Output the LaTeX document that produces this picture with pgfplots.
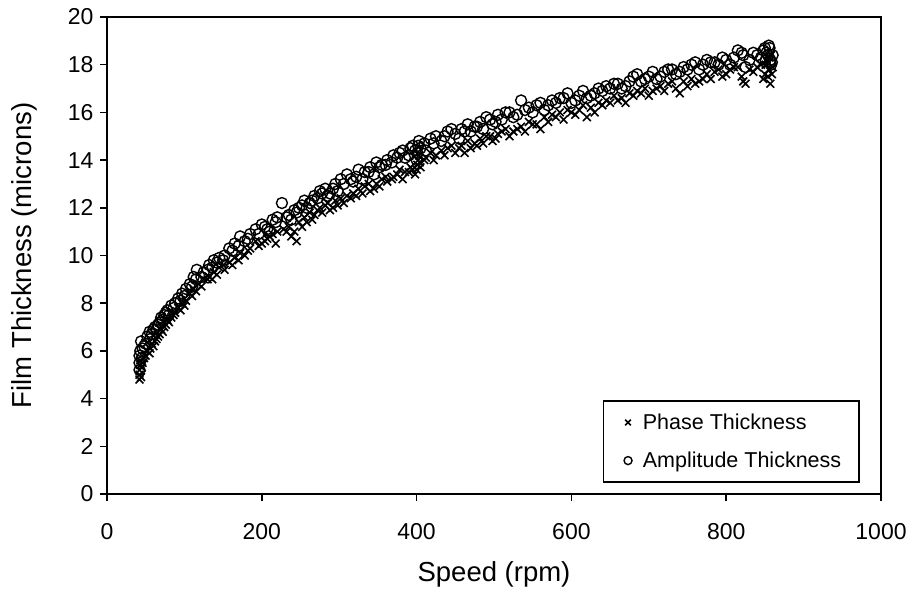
\documentclass[border=0pt]{standalone}
\usepackage{fontspec}
\setmainfont{Liberation Sans}
\usepackage{pgfplots}
\pgfplotsset{compat=1.18}
\begin{document}
\begin{tikzpicture}
\begin{axis}[
  scale only axis,
  width=774pt, height=477pt,
  xmin=0, xmax=1000, ymin=0, ymax=20,
  xtick={0,200,...,1000}, ytick={0,2,...,20},
  /pgf/number format/assume math mode=true,
  /pgf/number format/1000 sep={},
  tick label style={font=\fontsize{23}{27}\selectfont},
  label style={font=\fontsize{27.5}{32}\selectfont},
  xlabel={Speed (rpm)}, ylabel={Film Thickness (microns)},
  xlabel style={yshift=-15pt},
  ylabel style={yshift=24pt},
  axis line style={line width=2pt},
  tick style={line width=1.6pt, black},
  tick align=outside, major tick length=7pt,
  xtick pos=bottom, ytick pos=left,
  xticklabel style={yshift=-19pt},
  yticklabel style={xshift=-3pt},
  legend style={at={(0.973,0.023)}, anchor=south east, draw=black, line width=1.8pt,
    font=\fontsize{21.5}{25}\selectfont, row sep=17pt, inner xsep=16pt, inner ysep=11pt,
    cells={anchor=west}},
  legend cell align=left,
  legend image code/.code={\path[draw=none] (0,0) -- (0.75cm,0); \draw[#1, mark size=4pt] plot coordinates {(0.3cm,0cm)};},
]
\coordinate (ll) at (rel axis cs:0,0);
\coordinate (ur) at (rel axis cs:1,1);
\addplot[only marks, mark=x, mark size=5.5pt, mark options={line width=1.6pt, black}] coordinates {
(42,4.8) (42,5.0) (42,5.2) (43,5.4) (43,5.6) (44,4.9) (45,5.3) (50,5.8) (52,6.0) (55,5.9) (58,6.3) (62,6.4) (66,6.6) (70,6.9) (74,7.0) (78,7.3) (83,7.4) (88,7.6) (92,7.8) (97,8.0) (102,8.1) (107,8.4) (112,8.6) (118,8.8) (125,9.0) (132,9.1) (138,9.3) (145,9.5) (152,9.4) (158,9.7) (165,9.9) (172,10.1) (178,10.0) (185,10.3) (192,10.6) (200,10.5) (207,10.7) (214,10.9) (220,11.0) (228,11.1) (235,11.2) (242,11.0) (248,11.4) (255,11.6) (262,11.8) (268,11.7) (275,12.0) (282,12.1) (288,11.9) (295,12.3) (302,12.4) (310,12.5) (318,12.6) (325,12.8) (333,12.9) (340,12.7) (348,13.0) (355,13.2) (362,13.1) (370,13.3) (378,13.6) (385,13.5) (392,13.7) (398,13.4) (400,13.6) (401,13.8) (402,14.0) (403,14.2) (404,13.9) (410,14.0) (418,14.3) (425,14.2) (432,14.4) (440,14.5) (450,14.3) (458,14.6) (466,14.8) (475,14.7) (482,14.9) (490,15.0) (498,14.8) (505,15.1) (515,15.3) (525,15.2) (535,15.4) (545,15.6) (555,15.5) (565,15.8) (575,15.9) (585,16.0) (595,16.1) (605,15.9) (615,16.3) (625,16.2) (635,16.4) (645,16.5) (655,16.7) (665,16.6) (675,16.8) (685,16.9) (695,17.0) (705,16.9) (715,17.1) (725,17.2) (735,17.0) (745,17.3) (755,17.4) (765,17.3) (775,17.6) (785,17.7) (795,17.5) (805,17.8) (815,17.9) (822,17.3) (825,17.2) (835,17.7) (845,18.0) (850,17.6) (852,18.2) (855,17.8) (857,17.2) (858,18.4) (860,17.9)
(46,5.5) (48,5.7) (56,6.1) (60,6.2) (64,6.5) (68,6.7) (72,6.8) (76,7.1) (80,7.2) (86,7.5) (95,7.7) (100,7.9) (110,8.3) (115,8.5) (122,8.7) (130,9.0) (136,9.0) (142,9.2) (150,9.6) (162,9.6) (170,9.8) (182,10.2) (196,10.4) (204,10.6) (210,10.8) (218,10.5) (232,11.0) (238,10.8) (245,10.6) (252,11.2) (258,11.4) (265,11.5) (272,11.9) (278,11.8) (285,12.2) (292,12.0) (298,12.1) (306,12.2) (315,12.4) (322,12.5) (330,12.6) (338,13.0) (345,12.8) (352,12.9) (360,13.3) (368,13.2) (375,13.4) (382,13.2) (390,13.5) (395,13.6) (405,13.7) (412,14.1) (422,14.0) (436,14.2) (445,14.6) (455,14.5) (462,14.3) (470,14.5) (478,14.6) (486,14.7) (495,15.0) (502,14.9) (510,15.2) (520,15.0) (530,15.3) (540,15.2) (550,15.5) (560,15.3) (570,15.6) (580,15.8) (590,15.7) (600,16.0) (610,16.1) (620,15.8) (630,16.0) (640,16.3) (650,16.4) (660,16.5) (670,16.4) (680,16.7) (690,16.8) (700,16.7) (710,17.0) (720,16.9) (730,17.3) (740,16.8) (750,17.1) (760,17.2) (770,17.4) (780,17.4) (790,17.8) (800,17.6) (810,17.9) (820,17.5) (830,17.8) (840,17.9) (848,17.4) (851,18.0) (854,17.5) (856,18.3) (859,17.6)
};
\addlegendentry{Phase Thickness}
\addplot[only marks, mark=o, mark size=5.5pt, mark options={line width=1.4pt, black}] coordinates {
(42,5.2) (42,5.5) (42,5.8) (43,6.0) (44,6.4) (45,5.7) (50,6.3) (52,6.6) (55,6.8) (58,6.7) (62,7.0) (66,7.1) (70,7.4) (74,7.5) (78,7.7) (83,7.9) (88,8.0) (92,8.2) (97,8.4) (102,8.6) (107,8.8) (112,9.1) (116,9.4) (125,9.3) (132,9.6) (138,9.8) (145,9.9) (152,10.0) (158,10.3) (165,10.5) (172,10.8) (178,10.6) (185,10.9) (192,11.1) (200,11.3) (207,11.1) (214,11.5) (220,11.6) (226,12.2) (235,11.7) (242,11.9) (248,12.0) (255,12.3) (262,12.2) (268,12.5) (275,12.7) (282,12.8) (288,12.6) (295,13.0) (302,13.2) (310,13.4) (318,13.1) (325,13.6) (333,13.5) (340,13.7) (348,13.9) (355,13.8) (362,14.0) (370,14.2) (378,14.3) (385,14.1) (392,14.5) (398,14.4) (400,14.0) (401,14.3) (402,14.6) (403,14.8) (410,14.7) (418,14.9) (425,15.0) (432,14.8) (440,15.2) (450,15.1) (458,15.3) (466,15.5) (475,15.4) (482,15.6) (490,15.8) (498,15.5) (505,15.9) (515,16.0) (525,15.8) (535,16.5) (545,16.2) (555,16.3) (565,16.1) (575,16.5) (585,16.6) (595,16.8) (605,16.5) (615,16.9) (625,16.7) (635,17.0) (645,17.1) (655,17.2) (665,17.0) (675,17.3) (685,17.6) (695,17.4) (705,17.7) (715,17.5) (725,17.8) (735,17.6) (745,17.9) (755,18.0) (765,17.8) (775,18.2) (785,18.1) (795,18.3) (805,18.0) (815,18.6) (822,18.4) (825,17.9) (835,18.5) (845,18.3) (850,18.7) (852,18.5) (855,18.8) (857,18.2) (858,18.0) (860,18.4)
(46,6.1) (48,6.2) (56,6.5) (60,6.9) (64,6.9) (68,7.2) (72,7.3) (76,7.6) (80,7.5) (86,7.8) (95,8.1) (100,8.3) (110,8.7) (115,9.0) (122,9.1) (130,9.4) (136,9.5) (142,9.7) (150,9.8) (162,10.2) (170,10.4) (182,10.7) (196,10.9) (204,11.2) (210,11.0) (218,11.4) (232,11.6) (238,11.5) (245,11.8) (252,12.1) (258,12.0) (265,12.3) (272,12.4) (278,12.6) (285,12.5) (292,12.8) (298,12.7) (306,13.0) (315,13.2) (322,13.3) (330,13.2) (338,13.5) (345,13.4) (352,13.7) (360,13.8) (368,13.9) (375,14.1) (382,14.4) (390,14.2) (395,14.6) (405,14.5) (412,14.4) (422,14.7) (436,15.0) (445,15.3) (455,14.9) (462,15.2) (470,15.2) (478,15.4) (486,15.3) (495,15.7) (502,15.6) (510,15.7) (520,16.0) (530,15.9) (540,16.1) (550,16.0) (560,16.4) (570,16.3) (580,16.4) (590,16.6) (600,16.4) (610,16.7) (620,16.6) (630,16.8) (640,16.9) (650,17.0) (660,17.2) (670,17.1) (680,17.5) (690,17.3) (700,17.5) (710,17.4) (720,17.7) (730,17.8) (740,17.7) (750,17.8) (760,18.1) (770,18.0) (780,18.1) (790,18.0) (800,18.2) (810,18.3) (820,18.5) (830,18.2) (840,18.4) (848,18.6) (851,18.2) (854,18.4) (856,18.7) (859,18.1)
};
\addlegendentry{Amplitude Thickness}
\end{axis}
\pgfresetboundingbox
\path (ll) ++(-107pt,-100pt) rectangle ([shift={(26pt,17pt)}]ur);
\end{tikzpicture}
\end{document}
